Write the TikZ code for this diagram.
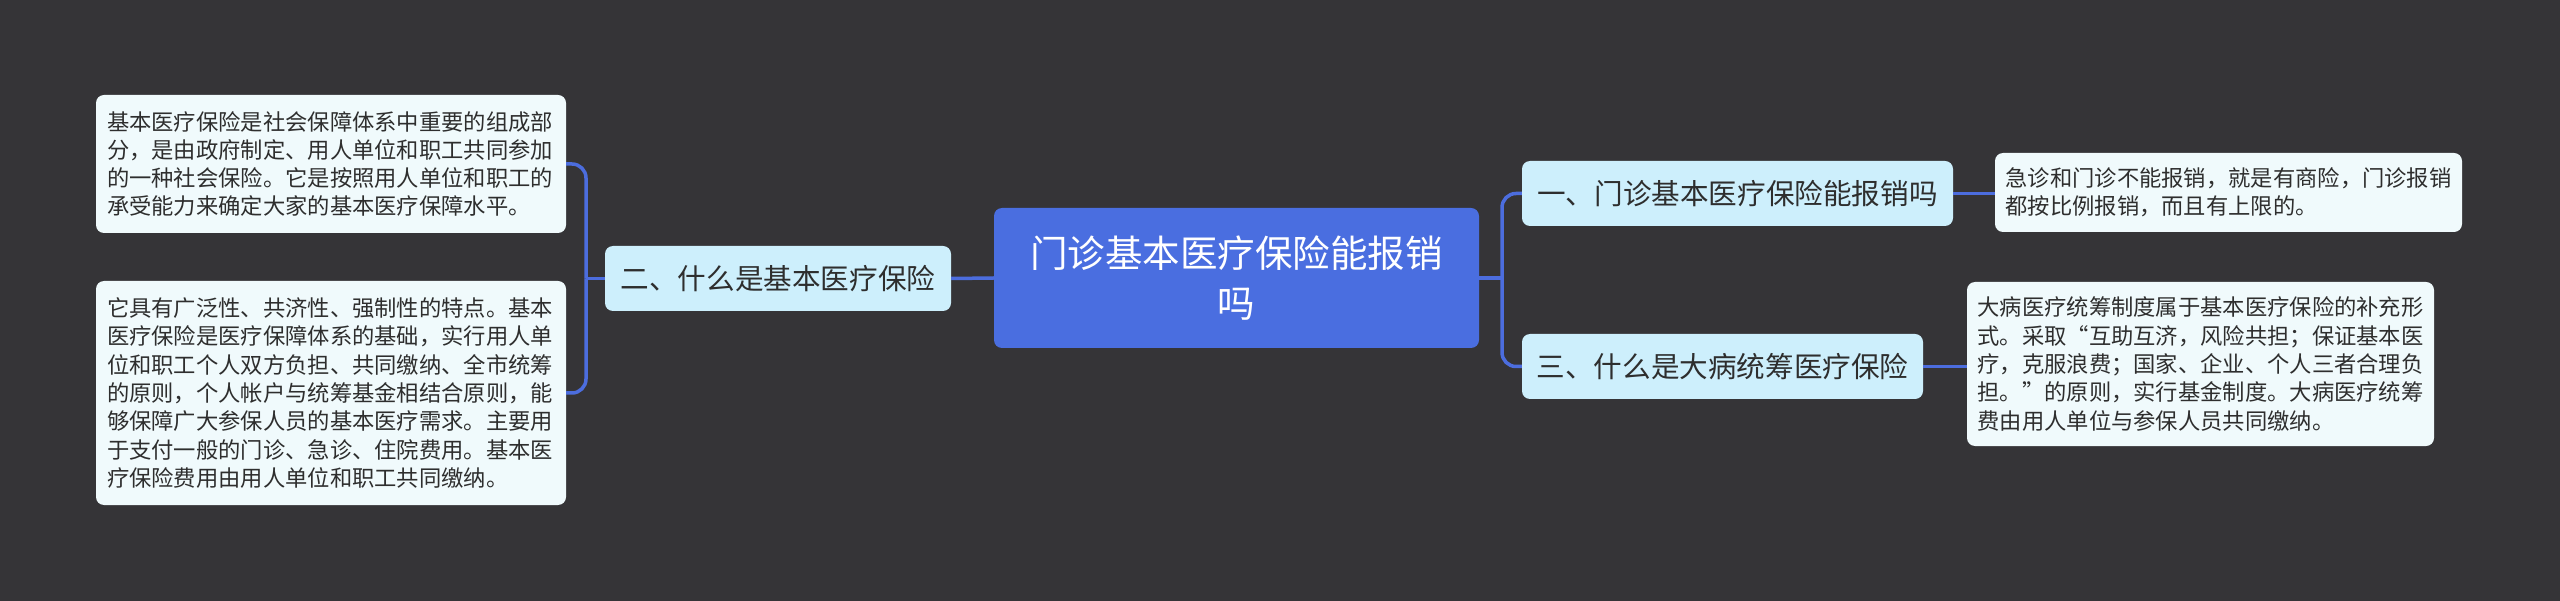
\documentclass[tikz,border=0pt]{standalone}
\usepackage{fontspec}
\newfontfamily\cjk{Noto Sans CJK SC}
\definecolor{bgc}{HTML}{353437}
\definecolor{linec}{HTML}{4C6DDE}
\definecolor{centerc}{HTML}{4A6EE0}
\definecolor{branchc}{HTML}{CDEFFC}
\definecolor{leafc}{HTML}{F0FAFC}
\definecolor{txtc}{HTML}{2E2E2E}
\begin{document}
\begin{tikzpicture}[x=1pt,y=-1pt,
  box/.style={rounded corners=8pt, inner sep=0pt, text=txtc},
  centerbox/.style={box, fill=centerc, text=white, align=center,
    font=\cjk\fontsize{37.5}{50}\selectfont},
  branchbox/.style={box, fill=branchc, align=center,
    font=\cjk\fontsize{28.6}{34}\selectfont, minimum height=65pt},
  leafbox/.style={box, fill=leafc, align=left,
    font=\cjk\fontsize{22.3}{28.3}\selectfont},
  conn/.style={draw=linec, line width=3.5pt, rounded corners=14pt}
]
\fill[bgc] (0,0) rectangle (2560,601);
\useasboundingbox (0,0) rectangle (2560,601);

\node[centerbox, minimum width=485pt, minimum height=140pt] (center) at (1236.5,278)
  {门诊基本医疗保险能报销\\吗};

\node[branchbox, minimum width=346pt] (bl) at (778,278.5) {二、什么是基本医疗保险};
\node[branchbox, minimum width=431pt] (br1) at (1737.5,193.5) {一、门诊基本医疗保险能报销吗};
\node[branchbox, minimum width=401pt] (br3) at (1722.5,366.5) {三、什么是大病统筹医疗保险};

\node[leafbox, minimum width=470pt, minimum height=138pt, text width=448pt] (l1) at (331,164)
  {基本医疗保险是社会保障体系中重要的组成部\\分，是由政府制定、用人单位和职工共同参加\\的一种社会保险。它是按照用人单位和职工的\\承受能力来确定大家的基本医疗保障水平。};
\node[leafbox, minimum width=470pt, minimum height=224pt, text width=448pt] (l2) at (331,393)
  {它具有广泛性、共济性、强制性的特点。基本\\医疗保险是医疗保障体系的基础，实行用人单\\位和职工个人双方负担、共同缴纳、全市统筹\\的原则，个人帐户与统筹基金相结合原则，能\\够保障广大参保人员的基本医疗需求。主要用\\于支付一般的门诊、急诊、住院费用。基本医\\疗保险费用由用人单位和职工共同缴纳。};
\node[leafbox, minimum width=467pt, minimum height=79pt, text width=446pt] (r1) at (2228.5,192.5)
  {急诊和门诊不能报销，就是有商险，门诊报销\\都按比例报销，而且有上限的。};
\node[leafbox, minimum width=467pt, minimum height=164pt, text width=446pt] (r3) at (2200.5,364)
  {大病医疗统筹制度属于基本医疗保险的补充形\\式。采取“互助互济，风险共担；保证基本医\\疗，克服浪费；国家、企业、个人三者合理负\\担。”的原则，实行基金制度。大病医疗统筹\\费由用人单位与参保人员共同缴纳。};

\coordinate (jl) at (586,278.5);
\coordinate (jr) at (1502,278);

\draw[conn] (center.west) -- (bl.east);
\draw[conn] (l1.east) -| (jl);
\draw[conn] (l2.east) -| (jl);
\draw[conn] (jl) -- (bl.west);

\draw[conn] (center.east) -- (jr);
\draw[conn] (br1.west) -| (jr);
\draw[conn] (br3.west) -| (jr);

\draw[conn] (br1.east) -- (br1.east -| r1.west);
\draw[conn] (br3.east) -- (br3.east -| r3.west);
\end{tikzpicture}
\end{document}
